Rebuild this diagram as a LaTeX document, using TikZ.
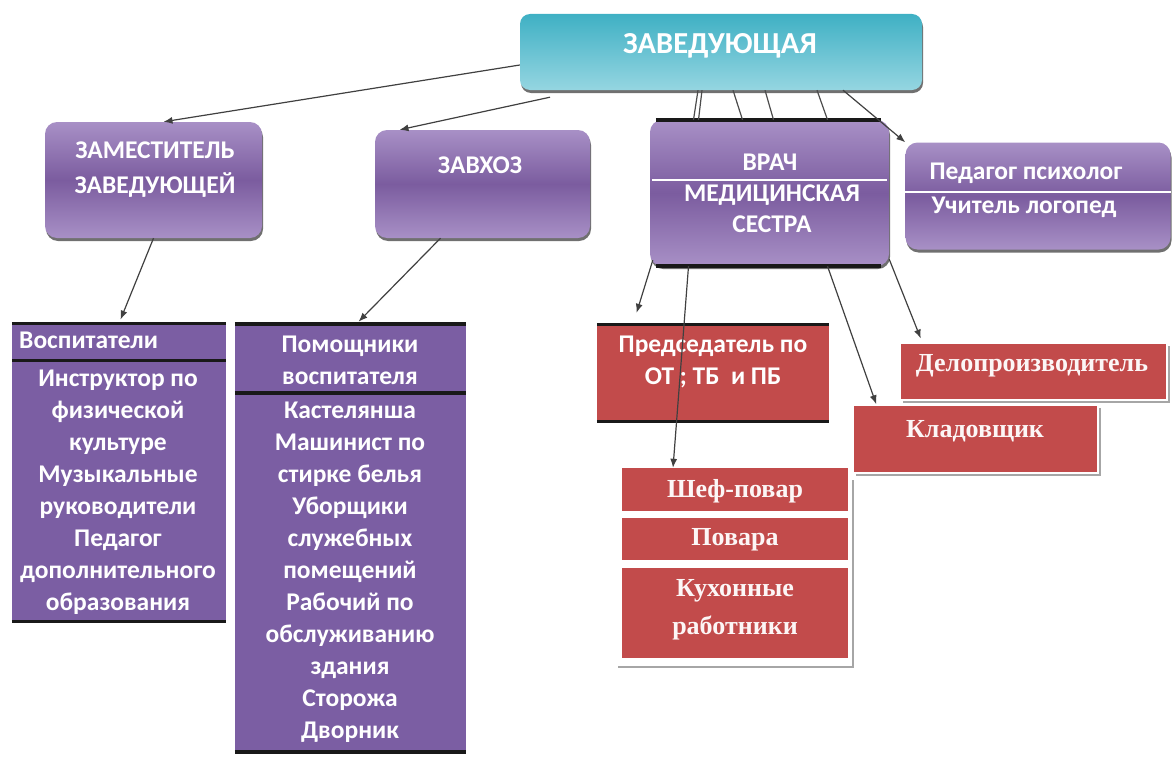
\documentclass[tikz,border=0pt]{standalone}
\usepackage{fontspec}
\setmainfont{Carlito}
\newfontfamily\serifbold{Liberation Serif}
\usepackage{tikz}
\usetikzlibrary{arrows.meta,shadows,calc}

\definecolor{tealtop}{HTML}{3FB0C4}
\definecolor{tealbot}{HTML}{95D6E1}
\definecolor{lilac}{HTML}{A890C6}
\definecolor{plum}{HTML}{7B5C9F}
\definecolor{flatplum}{HTML}{7B5EA3}
\definecolor{brick}{HTML}{C24B4B}

\tikzset{
  roundbox/.style={rounded corners=12pt, top color=lilac, bottom color=lilac, middle color=plum,
    drop shadow={shadow xshift=1pt, shadow yshift=-3pt, fill=black!70, opacity=.8}},
  flatbox/.style={fill=flatplum},
  redbox/.style={fill=brick},
  redshadow/.style={fill=brick, draw=white, line width=1.5pt,
    drop shadow={shadow xshift=3pt, shadow yshift=-3pt, fill=black!35, opacity=1}},
  txt/.style={text=white, font=\bfseries\fontsize{25.5}{32}\selectfont, align=center, inner sep=0pt},
  rtxt/.style={text=white!95!brick, font=\serifbold\bfseries\fontsize{26}{38}\selectfont, align=center, inner sep=0pt},
  bar/.style={draw=black!90, line width=3.5pt},
  wline/.style={draw=white, line width=2pt},
  arr/.style={-{Latex[length=9pt,width=7pt]}, draw=black!75, line width=1.2pt},
  plain/.style={draw=black!70, line width=1.2pt}
}

\begin{document}
\begin{tikzpicture}[x=1pt, y=-1pt]
\useasboundingbox (0,0) rectangle (1174,760);

% top
\node[rounded corners=10pt, top color=tealtop, bottom color=tealbot,
  drop shadow={shadow xshift=1pt, shadow yshift=-3pt, fill=black!70, opacity=.8},
  minimum width=402pt, minimum height=76pt] (top) at (721,52) {};
\node[txt, font=\bfseries\fontsize{30.5}{32}\selectfont] (toptext) at (720,46) {ЗАВЕДУЮЩАЯ};

% second row
\node[roundbox, minimum width=217pt, minimum height=116pt] (zam) at (153.5,180) {};
\node[txt, font=\bfseries\fontsize{25.5}{35}\selectfont] (zamtext) at (155,170) {ЗАМЕСТИТЕЛЬ\\ЗАВЕДУЮЩЕЙ};
\node[roundbox, minimum width=215pt, minimum height=108pt] (zavhoz) at (482.5,184) {};
\node[txt] (zavhoztext) at (480,165) {ЗАВХОЗ};
\node[roundbox, minimum width=239pt, minimum height=146pt] (vrach) at (769.5,193) {};
\node[txt] (vrachtext) at (770,162) {ВРАЧ};
\node[txt, font=\bfseries\fontsize{25.5}{31}\selectfont] (medtext) at (772,208.5) {МЕДИЦИНСКАЯ\\СЕСТРА};
\node[roundbox, minimum width=265pt, minimum height=107pt] (ped) at (1038,196) {};
\node[txt] (psytext) at (1026,173) {Педагог психолог};
\node[txt] (logtext) at (1024,207) {Учитель логопед};

\draw[bar] ([xshift=6pt]vrach.north west) -- ([xshift=-8pt]vrach.north east);
\draw[bar] ([xshift=6pt]vrach.south west) -- ([xshift=-8pt]vrach.south east);
\draw[wline] ($(vrach.north west)+(2,60)$) -- ($(vrach.north east)+(-2,60)$);
\draw[wline] ($(ped.north west)+(0,50)$) -- ($(ped.north east)+(0,50)$);

% purple lists
\node[flatbox, minimum width=214pt, minimum height=298pt] (vosp) at (119,472.5) {};
\node[txt, anchor=west] (vosphead) at (19,340) {Воспитатели};
\node[txt] (vosplist) at (118,492) {Инструктор по\\физической\\культуре\\Музыкальные\\руководители\\Педагог\\дополнительного\\образования};
\draw[bar] (vosp.north west) -- (vosp.north east);
\draw[bar] ($(vosp.north west)+(0,37)$) -- ($(vosp.north east)+(0,37)$);
\draw[bar] (vosp.south west) -- (vosp.south east);

\node[flatbox, minimum width=231pt, minimum height=428pt] (pom) at (350.5,538) {};
\node[txt] (pomhead) at (350,360) {Помощники\\воспитателя};
\node[txt] (pomlist) at (350,572.5) {Кастелянша\\Машинист по\\стирке белья\\Уборщики\\служебных\\помещений\\Рабочий по\\обслуживанию\\здания\\Сторожа\\Дворник};
\draw[bar] (pom.north west) -- (pom.north east);
\draw[bar] ($(pom.north west)+(0,69)$) -- ($(pom.north east)+(0,69)$);
\draw[bar] (pom.south west) -- (pom.south east);

% red boxes
\node[redbox, minimum width=232pt, minimum height=97pt] (pred) at (713,373) {};
\node[txt] (predtext) at (713,362) {Председатель по\\ОТ ; ТБ \ и ПБ};
\draw[bar] (pred.north west) -- (pred.north east);
\draw[bar] (pred.south west) -- (pred.south east);

\node[redshadow, minimum width=267pt, minimum height=57pt] (delo) at (1033.5,371.5) {};
\node[rtxt] (delotext) at (1032,366) {Делопроизводитель};
\node[redshadow, minimum width=245pt, minimum height=68pt] (klad) at (975.5,439) {};
\node[rtxt] (kladtext) at (975,431) {Кладовщик};

\draw[draw=black!35, line width=2pt] (853,480) |- (618,667);
\node[redbox, minimum width=226pt, minimum height=43pt] (chef) at (735,489.5) {};
\node[rtxt] (cheftext) at (735,491) {Шеф-повар};
\node[redbox, minimum width=226pt, minimum height=42pt] (cooks) at (735,539) {};
\node[rtxt] (cookstext) at (735,540) {Повара};
\node[redbox, minimum width=226pt, minimum height=90pt] (kitchen) at (735,613) {};
\node[rtxt] (kitchentext) at (735,610) {Кухонные\\работники};

% connectors
\draw[arr] ([yshift=-13pt]top.west) -- ([xshift=10pt]zam.north);
\draw[arr] ([xshift=-171pt,yshift=-7pt]top.south) -- ([xshift=-83pt]zavhoz.north);
\draw[plain] ([xshift=-23pt]top.south) -- ([xshift=-76pt]vrach.north);
\draw[plain] ([xshift=-19pt]top.south) -- ([xshift=-71pt]vrach.north);
\draw[plain] ([xshift=12pt]top.south) -- ([xshift=-27pt]vrach.north);
\draw[plain] ([xshift=44pt]top.south) -- ([xshift=4pt]vrach.north);
\draw[plain] ([xshift=96pt]top.south) -- ([xshift=58pt]vrach.north);
\draw[arr] ([xshift=122pt]top.south) -- (ped.north west);
\draw[arr, shorten >=4pt] (zam.south) -- (vosp.north);
\draw[arr, shorten >=3pt] ([xshift=-42pt]zavhoz.south) -- ([xshift=6pt]pom.north);
\draw[arr, shorten >=12pt] ([xshift=3pt,yshift=6pt]vrach.south west) -- ([xshift=-80pt]pred.north);
\draw[arr] ([xshift=-81pt]vrach.south) -- ([xshift=-62pt]chef.north);
\draw[arr] ([xshift=58pt]vrach.south) -- ([xshift=24pt]klad.north west);
\draw[arr, shorten >=4pt] ([xshift=0pt,yshift=7pt]vrach.south east) -- ([xshift=23pt]delo.north west);
\end{tikzpicture}
\end{document}
